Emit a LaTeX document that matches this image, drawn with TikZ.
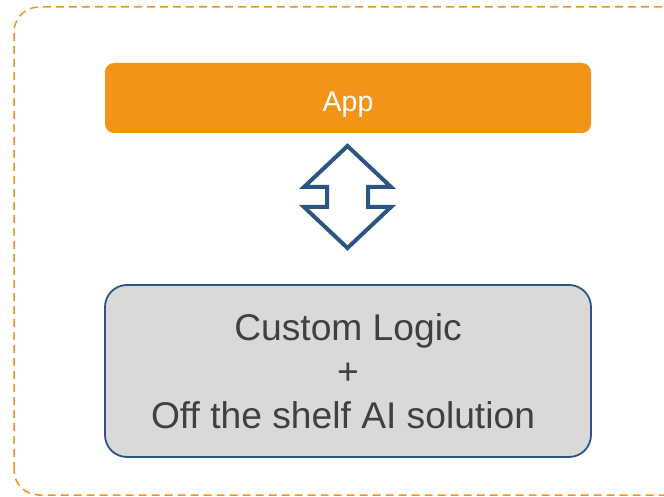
\documentclass[tikz,border=0pt]{standalone}
\usepackage{fontspec}
\setmainfont{Liberation Sans}
\definecolor{apporange}{HTML}{F39419}
\definecolor{boxgray}{HTML}{D9D9D9}
\definecolor{boxblue}{HTML}{2B5683}
\definecolor{txtgray}{HTML}{404040}
\begin{document}
\begin{tikzpicture}[x=1pt,y=1pt,
  appbox/.style={draw=none,fill=apporange,rounded corners=9pt,minimum width=486pt,minimum height=70pt,inner sep=0pt,text=white,text height=28pt,text depth=0pt,font=\fontsize{28.5}{32}\selectfont},
  logicbox/.style={draw=boxblue,line width=1.8pt,fill=boxgray,rounded corners=22pt,minimum width=486pt,minimum height=172pt,inner sep=0pt,text=txtgray,align=center,font=\fontsize{37.2}{44}\selectfont},
  blockarrow/.style={draw=boxblue,line width=4pt,fill=white,line join=miter},
  outerframe/.style={draw=apporange,line width=1.5pt,dash pattern=on 8pt off 5pt,rounded corners=25pt}]
\useasboundingbox (0,0) rectangle (664,496);
\begin{scope}
\clip (0,0) rectangle (664,496);
\draw[outerframe] (14,1) rectangle (700,489);
\end{scope}
\node[appbox] (app) at (348,398) {App};
\node[logicbox] (logic) at (348,125) {Custom Logic\\+\\Off the shelf AI solution\hspace*{10pt}};
\draw[blockarrow] (347.5,350) -- (391,309) -- (368,309) -- (368,289) -- (391,289) -- (347.5,248)
  -- (304,289) -- (327,289) -- (327,309) -- (304,309) -- cycle;
\end{tikzpicture}
\end{document}
